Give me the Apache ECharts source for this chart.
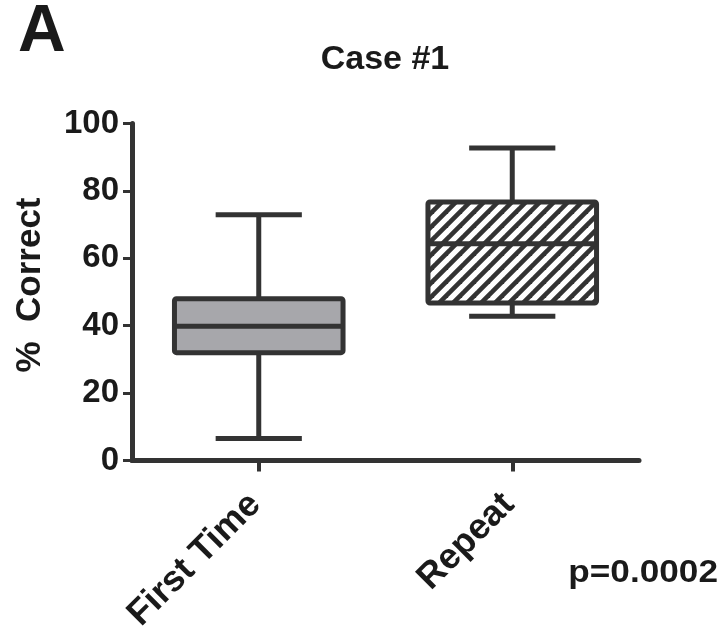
<!DOCTYPE html>
<html>
<head>
<meta charset="utf-8">
<title>Case #1</title>
<script src="https://cdn.jsdelivr.net/npm/echarts@6/dist/echarts.min.js"></script>
<style>
  html, body { margin: 0; padding: 0; background: #fff; }
  #chart { width: 725px; height: 629px; }
</style>
</head>
<body>
<div id="chart"></div>
<script>
// data
const categories = ['First Time', 'Repeat'];
// [min, Q1, median, Q3, max] for each group
const boxFirstTime = [6.5, 32.0, 39.8, 48.0, 72.9];
const boxRepeat = [42.8, 46.7, 64.3, 76.7, 92.7];
const yTicks = { min: 0, max: 100, interval: 20 };
const pValueText = 'p=0.0002';

const DARK = '#333333';
const FONT = '"Liberation Sans", Arial, Helvetica, sans-serif';

// hatch pattern for the Repeat box (stripes from lower-left to upper-right)
function makeHatch() {
  const size = 14;
  const c = document.createElement('canvas');
  c.width = size;
  c.height = size;
  const ctx = c.getContext('2d');
  ctx.fillStyle = '#ffffff';
  ctx.fillRect(0, 0, size, size);
  ctx.strokeStyle = DARK;
  ctx.lineWidth = 4.6;
  for (let k = -1; k <= 1; k++) {
    ctx.beginPath();
    ctx.moveTo(k * size - 2, size + 2);
    ctx.lineTo(k * size + size + 2, -2);
    ctx.stroke();
  }
  return c;
}

const fills = ['#a7a7ab', { image: makeHatch(), repeat: 'repeat' }];

const boxData = [
  [0].concat(boxFirstTime),
  [1].concat(boxRepeat)
];

function renderBox(params, api) {
  const idx = api.value(0);
  const band = api.size([1, 0])[0];
  const boxW = band * 0.665;
  const capW = band * 0.34;
  const x = api.coord([idx, 0])[0];
  const yMin = api.coord([idx, api.value(1)])[1];
  const yQ1 = api.coord([idx, api.value(2)])[1];
  const yMed = api.coord([idx, api.value(3)])[1];
  const yQ3 = api.coord([idx, api.value(4)])[1];
  const yMax = api.coord([idx, api.value(5)])[1];
  const lineStyle = { stroke: DARK, lineWidth: 5 };
  return {
    type: 'group',
    children: [
      { type: 'line', shape: { x1: x, y1: yMax, x2: x, y2: yQ3 }, style: lineStyle },
      { type: 'line', shape: { x1: x, y1: yQ1, x2: x, y2: yMin }, style: lineStyle },
      { type: 'line', shape: { x1: x - capW / 2, y1: yMax, x2: x + capW / 2, y2: yMax }, style: lineStyle },
      { type: 'line', shape: { x1: x - capW / 2, y1: yMin, x2: x + capW / 2, y2: yMin }, style: lineStyle },
      {
        type: 'rect',
        shape: { x: x - boxW / 2, y: yQ3, width: boxW, height: yQ1 - yQ3, r: 2 },
        style: { fill: fills[idx], stroke: DARK, lineWidth: 5, lineJoin: 'round' }
      },
      { type: 'line', shape: { x1: x - boxW / 2, y1: yMed, x2: x + boxW / 2, y2: yMed }, style: lineStyle }
    ]
  };
}

const chart = echarts.init(document.getElementById('chart'), null, { renderer: 'canvas' });

const option = {
  backgroundColor: '#ffffff',
  animation: false,
  textStyle: { fontFamily: FONT },
  grid: { left: 132, right: 86, top: 123.5, bottom: 168.5, containLabel: false, outerBoundsMode: 'none' },
  xAxis: {
    type: 'category',
    data: categories,
    axisLine: { show: true, lineStyle: { color: DARK, width: 5 } },
    axisTick: { show: true, alignWithLabel: true, length: 11, lineStyle: { color: DARK, width: 4 } },
    axisLabel: {
      rotate: 45,
      margin: 35,
      padding: [0, 5, 0, 0],
      color: '#1a1a1a',
      fontSize: 36,
      fontWeight: 'bold',
      fontFamily: FONT
    },
    splitLine: { show: false }
  },
  yAxis: {
    type: 'value',
    min: yTicks.min,
    max: yTicks.max,
    interval: yTicks.interval,
    name: '%  Correct',
    nameLocation: 'middle',
    nameGap: 84,
    nameTextStyle: { color: '#1a1a1a', fontSize: 35, fontWeight: 'bold', fontFamily: FONT, padding: [0, 0, 0, 14] },
    axisLine: { show: true, lineStyle: { color: DARK, width: 5 } },
    axisTick: { show: true, length: 9, lineStyle: { color: DARK, width: 3 } },
    axisLabel: {
      margin: 13,
      color: '#1a1a1a',
      fontSize: 33,
      fontWeight: 'bold',
      fontFamily: FONT
    },
    splitLine: { show: false }
  },
  graphic: [
    {
      type: 'text',
      left: 18,
      top: 0,
      style: { text: 'A', font: 'bold 66px ' + FONT, fill: '#1a1a1a' }
    },
    {
      type: 'text',
      x: 385,
      y: 60,
      style: { text: 'Case #1', font: 'bold 34px ' + FONT, fill: '#1a1a1a', align: 'center', verticalAlign: 'middle' }
    },
    {
      type: 'text',
      x: 718,
      y: 573,
      scaleX: 1.1,
      style: { text: pValueText, font: 'bold 32px ' + FONT, fill: '#1a1a1a', align: 'right', verticalAlign: 'middle' }
    }
  ],
  series: [
    {
      type: 'custom',
      renderItem: renderBox,
      encode: { x: 0, y: [1, 2, 3, 4, 5] },
      data: boxData,
      z: 3
    }
  ]
};

chart.setOption(option);
</script>
</body>
</html>
